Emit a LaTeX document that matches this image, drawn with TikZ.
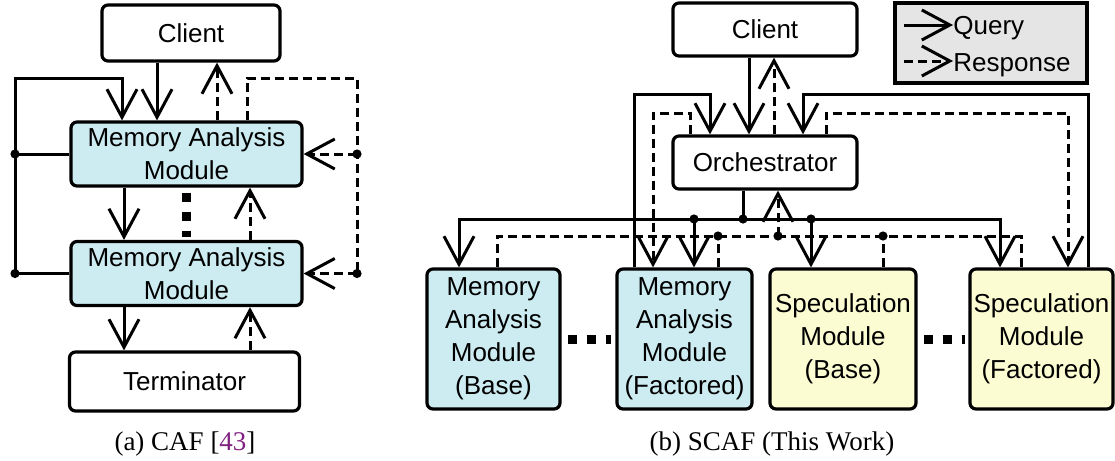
\documentclass[tikz,border=0pt]{standalone}
\usepackage{fontspec}
\setmainfont{Liberation Serif}
\setsansfont{Liberation Sans}
\usepackage{tikz}
\usetikzlibrary{arrows.meta}

\definecolor{mamfill}{RGB}{204,236,242}
\definecolor{specfill}{RGB}{252,252,210}
\definecolor{legfill}{RGB}{229,229,229}
\definecolor{citecol}{RGB}{128,32,128}
\newcommand{\boxfont}{\sffamily\fontsize{13}{16.5}\selectfont}
\newcommand{\capfont}{\rmfamily\fontsize{13.5}{16}\selectfont}

\tikzset{
  box/.style={draw, line width=1.6pt, rounded corners=3pt, inner sep=1pt,
              align=center, font=\boxfont},
  mam/.style={box, fill=mamfill},
  spec/.style={box, fill=specfill},
  wire/.style={line width=1.5pt},
  resp/.style={wire, dash pattern=on 4.5pt off 2.5pt},
  gap/.style={line width=4.5pt, dash pattern=on 4.5pt off 5pt},
}

\begin{document}
\begin{tikzpicture}[x=0.5pt, y=-0.5pt, >={Straight Barb[length=14pt,width=15pt]}]
  \useasboundingbox (0,0) rectangle (1115,461);
  % ── (a) CAF: chain of modules ─────────────────────────────────
  \node[box, minimum width=89pt, minimum height=28pt] (clientA) at (191,33) {Client};
  \node[mam, minimum width=115.5pt, minimum height=32pt] (mamA1) at (186.5,154) {Memory Analysis\\Module};
  \node[mam, minimum width=115.5pt, minimum height=32pt] (mamA2) at (186.5,273.5) {Memory Analysis\\Module};
  \node[box, minimum width=115pt, minimum height=29.5pt] (termA) at (184.5,381.5) {Terminator};
  % queries down the chain, responses back up
  \draw[wire,->] (clientA.south -| 157,0) -- (mamA1.north -| 157,0);
  \draw[resp,->] (mamA1.north -| 217,0) -- (clientA.south -| 217,0);
  \draw[wire,->] (mamA1.south -| 124,0) -- (mamA2.north -| 124,0);
  \draw[resp,->] (mamA2.north -| 250,0) -- (mamA1.south -| 250,0);
  \draw[wire,->] (mamA2.south -| 124,0) -- (termA.north -| 124,0);
  \draw[resp,->] (termA.north -| 250,0) -- (mamA2.south -| 250,0);
  % left loop: modules query the head of the chain
  \coordinate (jA1) at (mamA1.west -| 15,0);
  \coordinate (jA2) at (mamA2.west -| 15,0);
  \draw[wire] (mamA1.west) -- (jA1);
  \draw[wire,->] (mamA2.west) -- (jA2) |- (122,78) -- (mamA1.north -| 122,0);
  % right loop: responses fed back to the modules
  \coordinate (kA1) at (mamA1.east -| 357,0);
  \coordinate (kA2) at (mamA2.east -| 357,0);
  \draw[resp] (mamA1.north -| 247,0) |- (357,78) -- (kA2);
  \draw[resp,->] (kA1) -- (mamA1.east);
  \draw[resp,->] (kA2) -- (mamA2.east);
  \draw[gap] ([yshift=-2.5pt]mamA1.south) -- ([yshift=1.5pt]mamA2.north);
  \foreach \p in {jA1,jA2,kA1,kA2} \fill (\p) circle (2.3pt);
  \node[font=\capfont, anchor=base] (capA) at (185,450) {(a) CAF [\textcolor{citecol}{43}]};

  % ── (b) SCAF: orchestrator with module bus ────────────────────
  \node[box, minimum width=92pt, minimum height=26.5pt] (clientB) at (765,29.5) {Client};
  \node[box, minimum width=92pt, minimum height=26.5pt] (orch) at (765,162.5) {Orchestrator};
  \node[mam, minimum width=66.5pt, minimum height=70pt] (mamB) at (493.5,339) {Memory\\Analysis\\Module\\(Base)};
  \node[mam, minimum width=67.5pt, minimum height=70pt] (mamF) at (684.5,339) {Memory\\Analysis\\Module\\(Factored)};
  \node[spec, minimum width=73pt, minimum height=70pt] (specB) at (843,339) {Speculation\\Module\\(Base)};
  \node[spec, minimum width=71.5pt, minimum height=70pt] (specF) at (1041.5,339) {Speculation\\Module\\(Factored)};
  % legend
  \node[draw, line width=1.8pt, fill=legfill, minimum width=96pt, minimum height=40pt, inner sep=0pt] (legend) at (991,43) {};
  \node[font=\boxfont, anchor=base west, inner sep=0pt] (qtxt) at (953,34) {Query};
  \node[font=\boxfont, anchor=base west, inner sep=0pt] (rtxt) at (953,71) {Response};
  \coordinate (qs) at (904,25);
  \coordinate (rs) at (904,61);
  \draw[wire,->] (qs) -- (qs -| qtxt.west);
  \draw[resp,->] (rs) -- (rs -| rtxt.west);
  % client <-> orchestrator
  \draw[wire,->] (clientB.south -| 749,0) -- (orch.north -| 749,0);
  \draw[resp,->] (orch.north -| 774,0) -- (clientB.south -| 774,0);
  % factored modules query back through the orchestrator
  \draw[wire,->] (mamF.north -| 634,0) |- (710,94) -- (orch.north -| 710,0);
  \draw[resp,->] (orch.north -| 690,0) |- (653,113) -- (mamF.north -| 653,0);
  \draw[wire,->] (specF.north -| 1088,0) |- (803,94) -- (orch.north -| 803,0);
  \draw[resp,->] (orch.north -| 826,0) |- (1068,113) -- (specF.north -| 1068,0);
  % query bus
  \coordinate (qb) at (743,219);
  \coordinate (qb1) at (694,219);
  \coordinate (qb2) at (811,219);
  \draw[wire] (orch.south -| qb) -- (qb);
  \draw[wire,->] (qb) -| (mamB.north -| 459,0);
  \draw[wire,->] (qb) -| (specF.north -| 1000,0);
  \draw[wire,->] (qb1) -- (mamF.north -| qb1);
  \draw[wire,->] (qb2) -- (specB.north -| qb2);
  % response bus
  \coordinate (rb) at (778,236);
  \coordinate (rb1) at (718,236);
  \coordinate (rb2) at (883,236);
  \draw[resp] (mamB.north -| 497,0) |- (rb);
  \draw[resp] (specF.north -| 1021,0) |- (rb);
  \draw[resp,->] (rb) -- (orch.south -| rb);
  \draw[resp] (mamF.north -| rb1) -- (rb1);
  \draw[resp] (specB.north -| rb2) -- (rb2);
  \foreach \p in {qb,qb1,qb2,rb,rb1,rb2} \fill (\p) circle (2.3pt);
  \draw[gap] ([xshift=3pt]mamB.east) -- ([xshift=-2pt]mamF.west);
  \draw[gap] ([xshift=3pt]specB.east) -- ([xshift=-1.5pt]specF.west);
  \node[font=\capfont, anchor=base] (capB) at (772,450) {(b) SCAF (This Work)};
\end{tikzpicture}
\end{document}
